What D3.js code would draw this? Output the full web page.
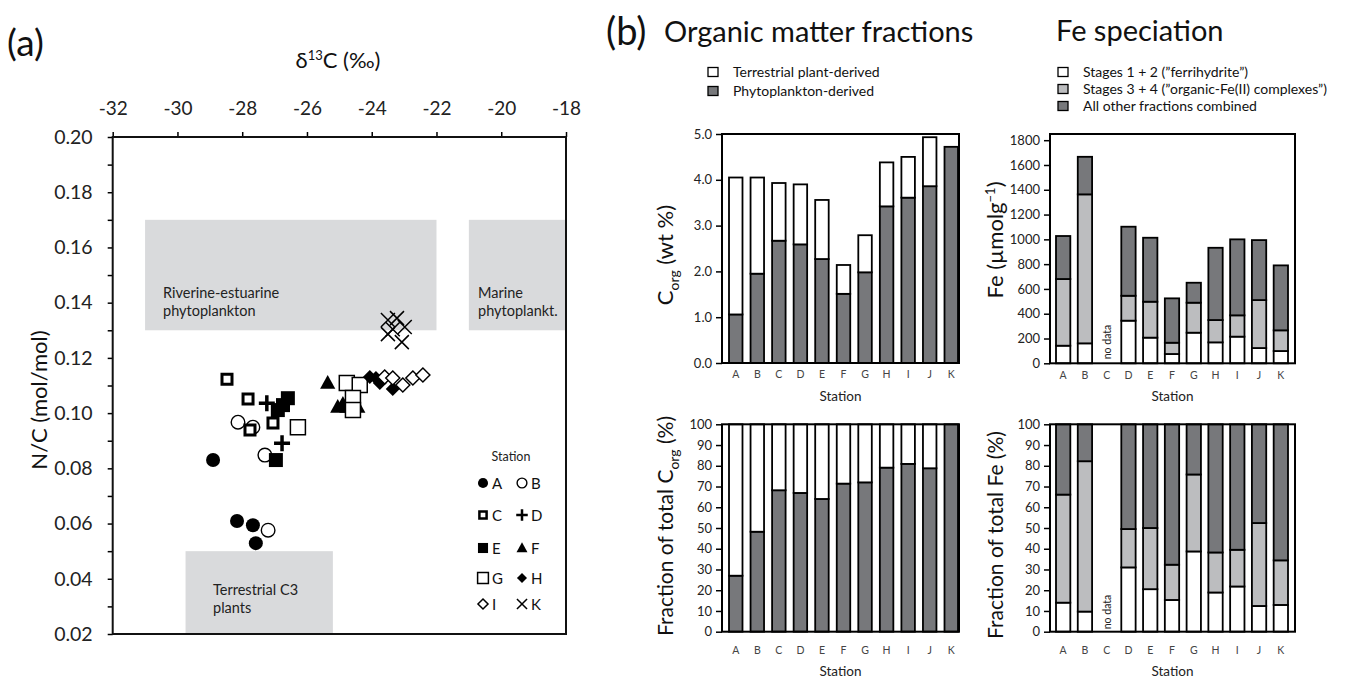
<!DOCTYPE html>
<html><head><meta charset="utf-8">
<script src="https://cdn.jsdelivr.net/npm/d3@7"></script>
<style>body{margin:0;background:#fff}svg{display:block}</style>
</head><body>
<svg id="c" width="1359" height="680"></svg>
<script>
// ---------------- DATA ----------------
// Panel (a): delta13C (permil) vs N/C (mol/mol), one array per station
const ptsA = [[-28.90,0.0830],[-28.16,0.0609],[-27.67,0.0594],[-27.58,0.0529]];
const ptsB = [[-28.13,0.0967],[-27.67,0.0949],[-27.30,0.0848],[-27.20,0.0576]];
const ptsC = [[-28.47,0.1123],[-27.82,0.1051],[-27.05,0.0964],[-27.76,0.0939]];
const ptsD = [[-27.24,0.1036],[-26.77,0.0891]];
const ptsE = [[-26.59,0.1054],[-26.74,0.1029],[-26.90,0.1011],[-26.96,0.0830]];
const ptsF = [[-25.36,0.1109],[-25.05,0.1022],[-24.77,0.1022],[-24.43,0.1022],[-24.89,0.1033]];
const ptsG = [[-24.77,0.1109],[-24.37,0.1102],[-24.58,0.1055],[-24.58,0.1011],[-26.28,0.0949]];
const ptsH = [[-24.06,0.1131],[-23.87,0.1127],[-23.75,0.1109],[-23.35,0.1087]];
const ptsI = [[-23.60,0.1131],[-23.35,0.1127],[-23.04,0.1102],[-22.73,0.1127],[-22.42,0.1138]];
const ptsK = [[-23.50,0.1337],[-23.22,0.1344],[-23.35,0.1304],[-22.98,0.1312],[-23.07,0.1257],[-23.50,0.1286]];
const scatterStations = ["A","B","C","D","E","F","G","H","I","K"];

const regionLines = [["Riverine-estuarine","phytoplankton"],["Marine","phytoplankt."],["Terrestrial C3","plants"]];
const regionX0 = [-31, -21, -29.75];
const regionX1 = [-22, -18, -25.2];
const regionY0 = [0.13, 0.13, 0.02];
const regionY1 = [0.17, 0.17, 0.05];

const d13cTicks = [-32,-30,-28,-26,-24,-22,-20,-18];
const ncTicks = [0.02,0.03,0.04,0.05,0.06,0.07,0.08,0.09,0.10,0.11,0.12,0.13,0.14,0.15,0.16,0.17,0.18,0.19,0.20];

// Panel (b)
const stations = ["A","B","C","D","E","F","G","H","I","J","K"];
const corgPhyto = [1.06,1.95,2.67,2.59,2.27,1.51,1.98,3.42,3.61,3.86,4.72];
const corgTerr  = [2.99,2.10,1.26,1.31,1.29,0.63,0.81,0.96,0.89,1.07,0.00];
const feStage12 = [142,161,null,344,207,75,247,169,215,123,99];
const feStage34 = [538,1202,null,201,290,91,242,180,172,387,167];
const feOther   = [347,303,null,557,516,358,161,583,613,484,524];
const fracPhyto = [27.0,48.2,68.2,66.9,64.0,71.4,72.0,79.1,80.9,78.8,100];
const fracTerr  = [73.0,51.8,31.8,33.1,36.0,28.6,28.0,20.9,19.1,21.2,0];
const fracFe12  = [14.0,9.7,null,31.0,20.5,15.3,38.7,18.9,21.8,12.4,12.9];
const fracFe34  = [52.1,72.5,null,18.5,29.5,17.0,37.1,19.3,17.7,40.0,21.5];
const fracFeOth = [33.9,17.8,null,50.5,50.0,67.7,24.2,61.8,60.5,47.6,65.6];

const corgTicks = [0,1,2,3,4,5];
const feTicks = [0,200,400,600,800,1000,1200,1400,1600,1800];
const pctTicks = [0,10,20,30,40,50,60,70,80,90,100];

const omLegend = ["Terrestrial plant-derived","Phytoplankton-derived"];
const feLegend = ["Stages 1 + 2 (\u201dferrihydrite\u201d)","Stages 3 + 4 (\u201dorganic-Fe(II) complexes\u201d)","All other fractions combined"];

// ---------------- DRAW ----------------
const svg = d3.select("#c");
const fA = "Lato, 'Open Sans', sans-serif";
const fB = "Lato, 'Open Sans', sans-serif";
const DARK = "#77787b", MID = "#bcbdbf", WHITE = "#ffffff";

// ===== Panel (a) =====
const xA = d3.scaleLinear().domain([-32,-18]).range([112.7,566]);
const yA = d3.scaleLinear().domain([0.02,0.20]).range([634,137]);
const gA = svg.append("g");

regionLines.forEach((lines,i)=>{
  gA.append("rect").attr("x",xA(regionX0[i])).attr("y",yA(regionY1[i]))
    .attr("width",xA(regionX1[i])-xA(regionX0[i])).attr("height",yA(regionY0[i])-yA(regionY1[i]))
    .attr("fill","#d9dadc");
});
const regLabelPos = [[163,298],[478,298],[213,595]];
regionLines.forEach((lines,i)=>{
  const t = gA.append("text").attr("font-family",fA).attr("font-size",14.5).attr("fill","#222");
  lines.forEach((l,j)=>t.append("tspan").attr("x",regLabelPos[i][0]).attr("y",regLabelPos[i][1]+j*18).text(l));
});

// axes
const axT = gA.append("g").attr("transform",`translate(0,${yA(0.20)})`)
  .call(d3.axisTop(xA).tickValues(d13cTicks).tickSize(5).tickPadding(17).tickFormat(d=>String(d)));
axT.select(".domain").remove();
axT.selectAll("text").attr("font-family",fA).attr("font-size",19).attr("fill","#222");
axT.selectAll("line").attr("stroke-width",1.5);
const axL = gA.append("g").attr("transform",`translate(${xA(-32)},0)`)
  .call(d3.axisLeft(yA).tickValues(ncTicks).tickSize(5).tickPadding(15)
    .tickFormat(d=>Math.round(d*100)%2===0?d3.format(".2f")(d):""));
axL.select(".domain").remove();
axL.selectAll("text").attr("font-family",fA).attr("font-size",19.5).attr("fill","#222");
axL.selectAll("line").attr("stroke-width",1.5);
gA.append("rect").attr("x",xA(-32)).attr("y",yA(0.20)).attr("width",xA(-18)-xA(-32)).attr("height",yA(0.02)-yA(0.20))
  .attr("fill","none").attr("stroke","#111").attr("stroke-width",2);

gA.append("text").attr("x",338).attr("y",68).attr("text-anchor","middle").attr("font-family",fA).attr("font-size",22).attr("fill","#111")
  .call(t=>{t.append("tspan").text("\u03b4");t.append("tspan").attr("dy",-8).attr("font-size",13).text("13");t.append("tspan").attr("dy",8).text("C (\u2030)");});
gA.append("text").attr("transform","translate(47,400) rotate(-90)").attr("text-anchor","middle").attr("font-family",fA).attr("font-size",22).attr("fill","#111").text("N/C (mol/mol)");
svg.append("text").attr("x",7).attr("y",56).attr("font-family",fA).attr("font-size",37).attr("fill","#111").text("(a)");

// symbols
const sym = {
  circle:{draw(c,r){c.moveTo(r,0);c.arc(0,0,r,0,2*Math.PI);}},
  square:{draw(c,r){c.rect(-r,-r,2*r,2*r);}},
  triangle:{draw(c,r){c.moveTo(0,-r);c.lineTo(r*0.95,r*0.72);c.lineTo(-r*0.95,r*0.72);c.closePath();}},
  diamond:{draw(c,r){c.moveTo(0,-r);c.lineTo(r,0);c.lineTo(0,r);c.lineTo(-r,0);c.closePath();}},
  plus:{draw(c,r){c.moveTo(-r,0);c.lineTo(r,0);c.moveTo(0,-r);c.lineTo(0,r);}},
  times:{draw(c,r){c.moveTo(-r,-r);c.lineTo(r,r);c.moveTo(-r,r);c.lineTo(r,-r);}}
};
const style = {
  A:{t:sym.circle,r:7,fill:"#000",stroke:"none",sw:0},
  B:{t:sym.circle,r:6.8,fill:"#fff",stroke:"#000",sw:1.4},
  C:{t:sym.square,r:5,fill:"#fff",stroke:"#000",sw:3},
  D:{t:sym.plus,r:8,fill:"none",stroke:"#000",sw:3.5},
  E:{t:sym.square,r:7,fill:"#000",stroke:"none",sw:0},
  F:{t:sym.triangle,r:8,fill:"#000",stroke:"none",sw:0},
  G:{t:sym.square,r:7.5,fill:"#fff",stroke:"#000",sw:1.5},
  H:{t:sym.diamond,r:7,fill:"#000",stroke:"none",sw:0},
  I:{t:sym.diamond,r:7,fill:"#fff",stroke:"#000",sw:1.5},
  K:{t:sym.times,r:7,fill:"none",stroke:"#000",sw:1.5}
};
const ptsBy = {A:ptsA,B:ptsB,C:ptsC,D:ptsD,E:ptsE,F:ptsF,G:ptsG,H:ptsH,I:ptsI,K:ptsK};
scatterStations.forEach(s=>{
  const st = style[s];
  gA.append("g").selectAll("path").data(ptsBy[s]).join("path")
    .attr("transform",d=>`translate(${xA(d[0])},${yA(d[1])})`)
    .attr("d",d3.symbol().type(st.t).size(st.r))
    .attr("fill",st.fill).attr("stroke",st.stroke).attr("stroke-width",st.sw);
});
// legend
gA.append("text").attr("x",511).attr("y",461).attr("text-anchor","middle").attr("font-family",fA).attr("font-size",12.5).attr("fill","#222").text("Station");
const legRowsY = [483,515,548,578,604];
scatterStations.forEach((s,i)=>{
  const row = Math.floor(i/2), col = i%2;
  const sx = col===0?483:522, y = legRowsY[row];
  const st = style[s];
  gA.append("path").attr("transform",`translate(${sx},${y})`)
    .attr("d",d3.symbol().type(st.t).size(st.r*0.72))
    .attr("fill",st.fill).attr("stroke",st.stroke).attr("stroke-width",Math.min(st.sw,2.5));
  gA.append("text").attr("x",sx+9).attr("y",y+5.5).attr("font-family",fA).attr("font-size",15).attr("fill","#111").text(s);
});

// ===== Panel (b) =====
svg.append("text").attr("x",606).attr("y",45).attr("font-family",fB).attr("font-size",38).attr("fill","#111").text("(b)");
svg.append("text").attr("x",664).attr("y",42).attr("font-family",fB).attr("font-size",29).attr("fill","#111").text("Organic matter fractions");
svg.append("text").attr("x",1056).attr("y",41).attr("font-family",fB).attr("font-size",29).attr("fill","#111").text("Fe speciation");

function legend(items, colors, x, ys, fs){
  items.forEach((t,i)=>{
    svg.append("rect").attr("x",x).attr("y",ys[i]-4.5).attr("width",10).attr("height",9)
      .attr("fill",colors[i]).attr("stroke","#000").attr("stroke-width",1.3);
    svg.append("text").attr("x",x+25).attr("y",ys[i]+5).attr("font-family",fB).attr("font-size",fs).attr("fill","#111").text(t);
  });
}
legend(omLegend,[WHITE,DARK],708,[72,91],14);
legend(feLegend,[WHITE,MID,DARK],1058,[72,89,106],14);

function barChart(o){
  const g = svg.append("g");
  const x = d3.scaleBand().domain(stations).range([o.b0,o.b1]).paddingInner(o.pi).paddingOuter(0);
  const y = d3.scaleLinear().domain([0,o.max]).range([o.yb,o.yt]);
  const rows = stations.map((s,i)=>{const r={station:s}; o.keys.forEach((k,j)=>r[k]=o.series[j][i]); return r;})
    .filter(r=>r[o.keys[0]]!=null);
  const layers = d3.stack().keys(o.keys)(rows);
  layers.forEach((layer,j)=>{
    g.append("g").selectAll("rect").data(layer).join("rect")
      .attr("x",d=>x(d.data.station)).attr("width",x.bandwidth())
      .attr("y",d=>y(d[1])).attr("height",d=>Math.max(0,y(d[0])-y(d[1])))
      .attr("fill",o.colors[j]).attr("stroke","#000").attr("stroke-width",1.8);
  });
  g.append("rect").attr("x",o.x0).attr("y",o.yt).attr("width",o.x1-o.x0).attr("height",o.yb-o.yt)
    .attr("fill","none").attr("stroke","#000").attr("stroke-width",2);
  const ya = g.append("g").attr("transform",`translate(${o.x0},0)`)
    .call(d3.axisLeft(y).tickValues(o.ticks).tickFormat(o.fmt).tickSize(6).tickPadding(4));
  ya.select(".domain").remove();
  ya.selectAll("line").attr("stroke-width",1.5);
  ya.selectAll("text").attr("font-family",fB).attr("font-size",13).attr("fill","#222");
  const xa = g.append("g").attr("transform",`translate(0,${o.yb})`)
    .call(d3.axisBottom(x).tickSize(0).tickPadding(o.xpad));
  xa.select(".domain").remove();
  xa.selectAll("text").attr("font-family",fB).attr("font-size",10.5).attr("fill","#444");
  g.append("text").attr("x",(o.x0+o.x1)/2).attr("y",o.stY).attr("text-anchor","middle")
    .attr("font-family",fB).attr("font-size",13.5).attr("fill","#222").text("Station");
  if(o.nodata){
    g.append("text").attr("transform",`translate(${x("C")+x.bandwidth()/2+4},${o.nodataY}) rotate(-90)`)
      .attr("text-anchor","middle").attr("font-family",fB).attr("font-size",10.5).attr("fill","#222").text("no data");
  }
  return g;
}

barChart({x0:722,x1:959,b0:729,b1:958,yt:134,yb:363,pi:0.374,max:5,ticks:corgTicks,fmt:d3.format(".1f"),
  keys:["phyto","terr"],series:[corgPhyto,corgTerr],colors:[DARK,WHITE],xpad:8,stY:401});
barChart({x0:1050,x1:1295,b0:1056,b1:1288,yt:134,yb:363.3,pi:0.342,max:1850,ticks:feTicks,fmt:d3.format("d"),
  keys:["s12","s34","oth"],series:[feStage12,feStage34,feOther],colors:[WHITE,MID,DARK],xpad:8,stY:401,nodata:true,nodataY:342});
barChart({x0:722,x1:959,b0:729,b1:958,yt:424.3,yb:631.7,pi:0.374,max:100,ticks:pctTicks,fmt:d3.format("d"),
  keys:["phyto","terr"],series:[fracPhyto,fracTerr],colors:[DARK,WHITE],xpad:15,stY:676});
barChart({x0:1050,x1:1295,b0:1056,b1:1288,yt:424.3,yb:631.7,pi:0.342,max:100,ticks:pctTicks,fmt:d3.format("d"),
  keys:["s12","s34","oth"],series:[fracFe12,fracFe34,fracFeOth],colors:[WHITE,MID,DARK],xpad:15,stY:676,nodata:true,nodataY:612});

// y-axis titles of panel (b)
function yTitle(x,y,fs,parts){
  const t = svg.append("text").attr("transform",`translate(${x},${y}) rotate(-90)`).attr("text-anchor","middle")
    .attr("font-family",fB).attr("font-size",fs).attr("fill","#111");
  parts.forEach(p=>{const s=t.append("tspan").text(p.t); if(p.dy) s.attr("dy",p.dy); if(p.fs) s.attr("font-size",p.fs);});
}
yTitle(673,255,22,[{t:"C"},{t:"org",dy:6,fs:14},{t:" (wt %)",dy:-6}]);
yTitle(673,526,21,[{t:"Fraction of total C"},{t:"org",dy:6,fs:14},{t:" (%)",dy:-6}]);
yTitle(1003,240,22,[{t:"Fe (\u00b5molg"},{t:"\u22121",dy:-8,fs:13},{t:")",dy:8}]);
yTitle(1003,535,21,[{t:"Fraction of total Fe  (%)"}]);
</script>
</body></html>
